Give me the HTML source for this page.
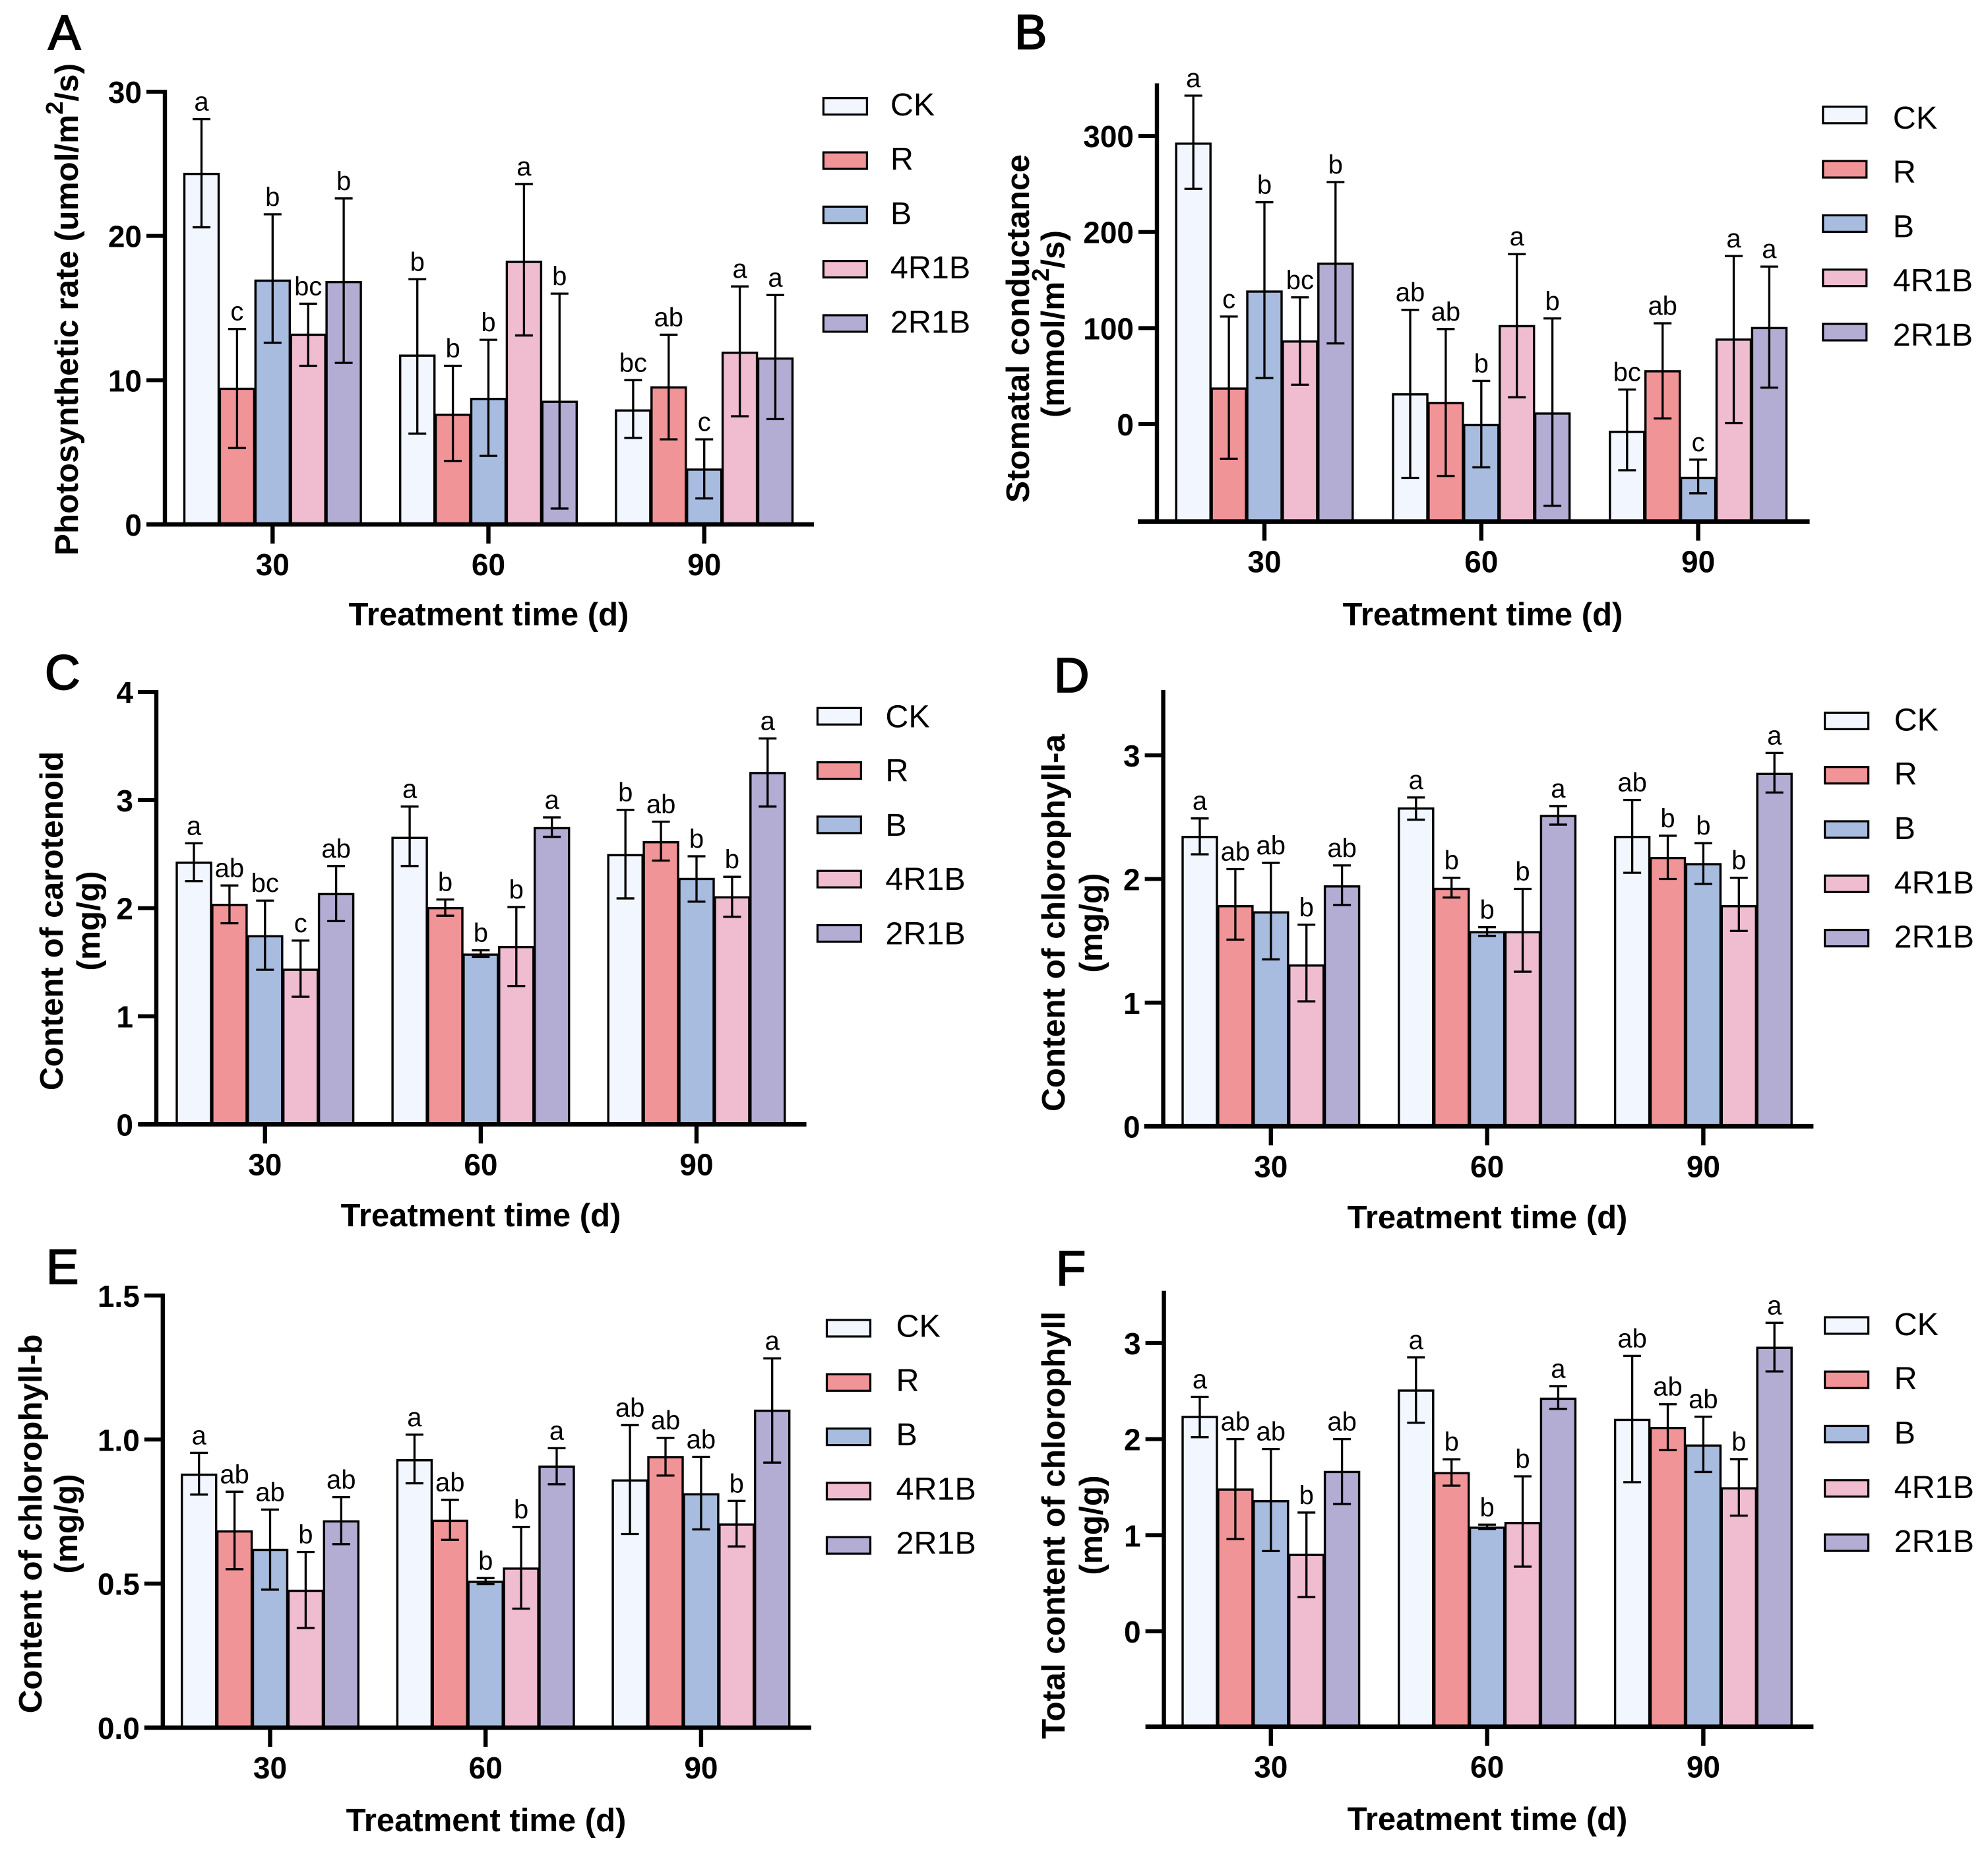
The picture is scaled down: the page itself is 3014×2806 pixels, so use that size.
<!DOCTYPE html>
<html lang="en">
<head>
<meta charset="utf-8">
<title>Photosynthesis and pigment bar charts</title>
<style>
html,body{margin:0;padding:0;background:#fff;}
svg{display:block;font-family:"Liberation Sans",Arial,sans-serif;}
.panel-letter{font-size:74px;fill:#000;stroke:#000;stroke-width:2px;}
.axis-title{font-size:49px;font-weight:700;fill:#000;}
.y-title{font-size:49.5px;font-weight:700;fill:#000;}
</style>
</head>
<body>
<svg id="figure" width="3014" height="2806" viewBox="0 0 3014 2806" xmlns="http://www.w3.org/2000/svg">
<rect width="3014" height="2806" fill="#ffffff"/>
<g id="panels"></g>

<text class="panel-letter" x="73" y="75">A</text>
<text class="panel-letter" x="1538" y="74">B</text>
<text class="panel-letter" x="68" y="1045">C</text>
<text class="panel-letter" x="1598" y="1049">D</text>
<text class="panel-letter" x="70" y="1946">E</text>
<text class="panel-letter" x="1601" y="1948">F</text>

<text class="y-title" text-anchor="middle" transform="translate(118,469) rotate(-90)">Photosynthetic rate (umol/m<tspan dy="-23" font-size="36">2</tspan><tspan dy="23">/s)</tspan></text>

<text class="y-title" text-anchor="middle" transform="translate(1560,498) rotate(-90)">Stomatal conductance</text>
<text class="y-title" text-anchor="middle" transform="translate(1613,491) rotate(-90)">(mmol/m<tspan dy="-23" font-size="36">2</tspan><tspan dy="23">/s)</tspan></text>

<text class="y-title" text-anchor="middle" transform="translate(95,1396) rotate(-90)">Content of carotenoid</text>
<text class="y-title" text-anchor="middle" transform="translate(151,1396) rotate(-90)">(mg/g)</text>

<text class="y-title" text-anchor="middle" transform="translate(1614,1399) rotate(-90)">Content of chlorophyll-a</text>
<text class="y-title" text-anchor="middle" transform="translate(1671,1399) rotate(-90)">(mg/g)</text>

<text class="y-title" text-anchor="middle" transform="translate(63,2310) rotate(-90)">Content of chlorophyll-b</text>
<text class="y-title" text-anchor="middle" transform="translate(117,2310) rotate(-90)">(mg/g)</text>

<text class="y-title" text-anchor="middle" transform="translate(1614,2312) rotate(-90)">Total content of chlorophyll</text>
<text class="y-title" text-anchor="middle" transform="translate(1671,2312) rotate(-90)">(mg/g)</text>

<text class="axis-title" text-anchor="middle" x="741" y="948">Treatment time (d)</text>
<text class="axis-title" text-anchor="middle" x="2248" y="948">Treatment time (d)</text>
<text class="axis-title" text-anchor="middle" x="729" y="1859">Treatment time (d)</text>
<text class="axis-title" text-anchor="middle" x="2255" y="1862">Treatment time (d)</text>
<text class="axis-title" text-anchor="middle" x="737" y="2776">Treatment time (d)</text>
<text class="axis-title" text-anchor="middle" x="2255" y="2774">Treatment time (d)</text>
</svg>

<script>
// Shared categories, series and colours
const categories = ['30', '60', '90'];
const seriesNames = ['CK', 'R', 'B', '4R1B', '2R1B'];
const seriesColors = ['#f2f6ff', '#f19498', '#a8bcdf', '#f0bcd0', '#b3acd3'];

// Panel A: photosynthetic rate (rows = series, columns = 30/60/90 d)
const aMeans = [[24.3, 11.7, 7.9], [9.4, 7.6, 9.5], [16.9, 8.7, 3.8], [13.15, 18.2, 11.9], [16.8, 8.5, 11.5]];
const aUpper = [[28.1, 17.0, 10.0], [13.55, 11.0, 13.15], [21.5, 12.8, 5.9], [15.3, 23.6, 16.5], [22.6, 16.0, 15.9]];
const aLower = [[20.6, 6.3, 6.0], [5.3, 4.4, 5.9], [12.6, 4.75, 1.8], [11.0, 13.1, 7.5], [11.2, 1.1, 7.3]];
const aLetters = [['a', 'b', 'bc'], ['c', 'b', 'ab'], ['b', 'b', 'c'], ['bc', 'a', 'a'], ['b', 'b', 'a']];
const aTickLabels = ['0', '10', '20', '30'];

// Panel B: stomatal conductance
const bMeans = [[292, 31, -8], [37, 22, 55], [138, -1, -56], [86, 102, 88], [167, 11, 100]];
const bUpper = [[342, 119, 36], [112, 99, 105], [231, 45, -37], [132, 177, 175], [252, 110, 164]];
const bLower = [[245, -56, -48], [-36, -54, 6], [48, -45, -72], [41, 28, 1], [84, -85, 38]];
const bLetters = [['a', 'ab', 'bc'], ['c', 'ab', 'ab'], ['b', 'b', 'c'], ['bc', 'a', 'a'], ['b', 'b', 'a']];
const bTickLabels = ['0', '100', '200', '300'];

// Panel C: carotenoid
const cMeans = [[2.42, 2.65, 2.49], [2.03, 2.0, 2.61], [1.74, 1.57, 2.27], [1.43, 1.64, 2.10], [2.13, 2.74, 3.25]];
const cUpper = [[2.60, 2.94, 2.91], [2.21, 2.08, 2.80], [2.07, 1.61, 2.48], [1.70, 2.01, 2.29], [2.39, 2.84, 3.57]];
const cLower = [[2.25, 2.39, 2.09], [1.86, 1.93, 2.44], [1.43, 1.55, 2.06], [1.18, 1.28, 1.92], [1.88, 2.66, 2.94]];
const cLetters = [['a', 'a', 'b'], ['ab', 'b', 'ab'], ['bc', 'b', 'b'], ['c', 'b', 'b'], ['ab', 'a', 'a']];
const cTickLabels = ['0', '1', '2', '3', '4'];

// Panel D: chlorophyll-a
const dMeans = [[2.34, 2.57, 2.34], [1.78, 1.92, 2.17], [1.73, 1.57, 2.12], [1.30, 1.57, 1.78], [1.94, 2.51, 2.85]];
const dUpper = [[2.49, 2.66, 2.64], [2.08, 2.01, 2.35], [2.13, 1.61, 2.29], [1.63, 1.92, 2.01], [2.11, 2.59, 3.02]];
const dLower = [[2.20, 2.48, 2.05], [1.51, 1.85, 2.0], [1.35, 1.54, 1.96], [1.01, 1.25, 1.58], [1.79, 2.44, 2.70]];
const dLetters = [['a', 'a', 'ab'], ['ab', 'b', 'b'], ['ab', 'b', 'b'], ['b', 'b', 'b'], ['ab', 'a', 'a']];
const dTickLabels = ['0', '1', '2', '3'];

// Panel E: chlorophyll-b
const eMeans = [[0.878, 0.928, 0.858], [0.681, 0.718, 0.939], [0.617, 0.506, 0.81], [0.475, 0.552, 0.705], [0.716, 0.906, 1.10]];
const eUpper = [[0.954, 1.017, 1.05], [0.819, 0.791, 1.006], [0.757, 0.519, 0.94], [0.61, 0.697, 0.787], [0.80, 0.97, 1.282]];
const eLower = [[0.809, 0.848, 0.672], [0.55, 0.652, 0.875], [0.479, 0.498, 0.688], [0.346, 0.413, 0.629], [0.637, 0.845, 0.92]];
const eLetters = [['a', 'a', 'ab'], ['ab', 'ab', 'ab'], ['ab', 'b', 'ab'], ['b', 'b', 'b'], ['ab', 'a', 'a']];
const eTickLabels = ['0.0', '0.5', '1.0', '1.5'];

// Panel F: total chlorophyll
const fMeans = [[2.23, 2.505, 2.20], [1.475, 1.646, 2.116], [1.354, 1.078, 1.933], [0.795, 1.127, 1.488], [1.658, 2.42, 2.95]];
const fUpper = [[2.44, 2.85, 2.866], [2.0, 1.79, 2.363], [1.897, 1.11, 2.233], [1.236, 1.613, 1.792], [2.0, 2.55, 3.21]];
const fLower = [[2.02, 2.17, 1.552], [0.96, 1.516, 1.885], [0.835, 1.066, 1.658], [0.357, 0.673, 1.204], [1.325, 2.315, 2.704]];
const fLetters = [['a', 'a', 'ab'], ['ab', 'b', 'ab'], ['ab', 'b', 'ab'], ['b', 'b', 'b'], ['ab', 'a', 'a']];
const fTickLabels = ['0', '1', '2', '3'];

const SVG_NS = 'http://www.w3.org/2000/svg';
const BAR_PITCH = 53.9;
const BAR_WIDTH = 52;

function mk(parent, tag, attrs, text) {
  const el = document.createElementNS(SVG_NS, tag);
  for (const k in attrs) el.setAttribute(k, attrs[k]);
  if (text !== undefined) el.textContent = text;
  parent.appendChild(el);
  return el;
}

function drawPanel(id, frame, data) {
  const root = document.getElementById('panels');
  const g = mk(root, 'g', {});
  
  

  const yScale = function (v) {
    return frame.bottom - (v - frame.yMin) / (frame.yMax - frame.yMin) * (frame.bottom - frame.top);
  };
  const xScale = function (groupIndex, seriesIndex) {
    return frame.tick0 + groupIndex * frame.tickStep + (seriesIndex - 2) * BAR_PITCH;
  };

  // Bars, error bars and significance letters
  data.means.forEach(function (row, s) {
    row.forEach(function (value, c) {
      const cx = xScale(c, s);
      const top = yScale(value);
      const bar = mk(g, 'rect', {
        x: cx - BAR_WIDTH / 2, y: top, width: BAR_WIDTH, height: Math.max(0, frame.bottom - top),
        fill: seriesColors[s], stroke: '#000', 'stroke-width': 3.4
      });
      
      

      const hi = yScale(data.upper[s][c]);
      const lo = yScale(data.lower[s][c]);
      const err = mk(g, 'path', {
        d: 'M' + cx + ' ' + hi + 'V' + lo + 'M' + (cx - 13.5) + ' ' + hi + 'H' + (cx + 13.5) + 'M' + (cx - 13.5) + ' ' + lo + 'H' + (cx + 13.5),
        fill: 'none', stroke: '#000', 'stroke-width': 3.3
      });
      
      

      const sig = mk(g, 'text', {
        x: cx, y: hi - 13, 'text-anchor': 'middle', 'font-size': 40, fill: '#000'
      }, data.letters[s][c]);
      
      
    });
  });

  // Y axis
  const yAxis = mk(g, 'line', {
    x1: frame.axisX, x2: frame.axisX, y1: frame.top - 3, y2: frame.bottom,
    stroke: '#000', 'stroke-width': 6.4
  });
  
  

  data.tickLabels.forEach(function (label) {
    const y = yScale(parseFloat(label));
    const tick = mk(g, 'line', {
      x1: frame.axisX - 28, x2: frame.axisX, y1: y, y2: y, stroke: '#000', 'stroke-width': 6
    });
    
    
    const lab = mk(g, 'text', {
      x: frame.axisX - 35, y: y + 17, 'text-anchor': 'end', 'font-size': 46, 'font-weight': 700, fill: '#000'
    }, label);
    
    
  });

  // X axis
  const xAxis = mk(g, 'line', {
    x1: frame.xStart, x2: frame.xEnd, y1: frame.bottom, y2: frame.bottom,
    stroke: '#000', 'stroke-width': 6.8
  });
  
  

  categories.forEach(function (cat, c) {
    const x = xScale(c, 2);
    const tick = mk(g, 'line', {
      x1: x, x2: x, y1: frame.bottom, y2: frame.bottom + 29, stroke: '#000', 'stroke-width': 6.4
    });
    
    
    const lab = mk(g, 'text', {
      x: x, y: frame.bottom + 77, 'text-anchor': 'middle', 'font-size': 46, 'font-weight': 700, fill: '#000'
    }, cat);
    
    
  });

  // Legend
  const legend = mk(g, 'g', {});
  
  
  seriesNames.forEach(function (name, s) {
    const cy = frame.legendY + s * 82.3;
    const entry = mk(legend, 'g', {});
    
    
    const swatch = mk(entry, 'rect', {
      x: frame.legendX - 33, y: cy - 12.5, width: 66, height: 25,
      fill: seriesColors[s], stroke: '#000', 'stroke-width': 3.2
    });
    
    
    const label = mk(entry, 'text', {
      x: frame.legendX + frame.legendDx, y: cy + frame.legendDy, 'font-size': 48.5, fill: '#000'
    }, name);
    
    
  });
}

drawPanel('a',
  { axisX: 250, top: 139, bottom: 795, yMin: 0, yMax: 30, xStart: 222, xEnd: 1234, tick0: 413.3, tickStep: 327.2, legendX: 1281.4, legendY: 161.2, legendDx: 68.5, legendDy: 14 },
  { means: aMeans, upper: aUpper, lower: aLower, letters: aLetters, tickLabels: aTickLabels });
drawPanel('b',
  { axisX: 1754, top: 129.4, bottom: 790.6, yMin: -101.4, yMax: 352.7, xStart: 1725, xEnd: 2743.6, tick0: 1917, tickStep: 328.8, legendX: 2796.8, legendY: 174.3, legendDx: 73, legendDy: 20.5 },
  { means: bMeans, upper: bUpper, lower: bLower, letters: bLetters, tickLabels: bTickLabels });
drawPanel('c',
  { axisX: 237, top: 1049, bottom: 1704.4, yMin: 0, yMax: 4, xStart: 210.5, xEnd: 1222.6, tick0: 401.8, tickStep: 327.1, legendX: 1272.4, legendY: 1085.8, legendDx: 70, legendDy: 16.5 },
  { means: cMeans, upper: cUpper, lower: cLower, letters: cLetters, tickLabels: cTickLabels });
drawPanel('d',
  { axisX: 1763.6, top: 1049, bottom: 1707.3, yMin: 0, yMax: 3.513, xStart: 1734.6, xEnd: 2749.4, tick0: 1926.8, tickStep: 327.8, legendX: 2799.6, legendY: 1092.9, legendDx: 72, legendDy: 14.5 },
  { means: dMeans, upper: dUpper, lower: dLower, letters: dLetters, tickLabels: dTickLabels });
drawPanel('e',
  { axisX: 246.8, top: 1963.9, bottom: 2619, yMin: 0, yMax: 1.5, xStart: 219, xEnd: 1230, tick0: 409.5, tickStep: 326.7, legendX: 1286.5, legendY: 2013.5, legendDx: 72, legendDy: 13 },
  { means: eMeans, upper: eUpper, lower: eLower, letters: eLetters, tickLabels: eTickLabels });
drawPanel('f',
  { axisX: 1764.6, top: 1959.7, bottom: 2617.7, yMin: -0.993, yMax: 3.523, xStart: 1736.6, xEnd: 2749.4, tick0: 1926.8, tickStep: 327.8, legendX: 2799.6, legendY: 2009.4, legendDx: 72, legendDy: 14.5 },
  { means: fMeans, upper: fUpper, lower: fLower, letters: fLetters, tickLabels: fTickLabels });
</script>
</body>
</html>
